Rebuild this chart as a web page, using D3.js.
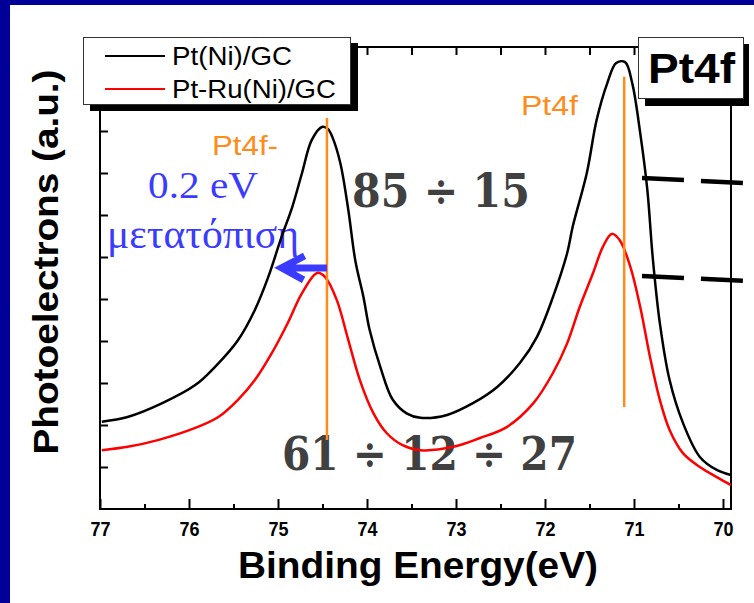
<!DOCTYPE html>
<html>
<head>
<meta charset="utf-8">
<script src="https://cdn.jsdelivr.net/npm/d3@7"></script>
<style>
	body { margin: 0; background: #000099; }
	svg { display: block; }
</style>
</head>
<body>
<div class="xps-plot"></div>
<script>
// Pt4f XPS spectra
const energyTicks = [77, 76, 75, 74, 73, 72, 71, 70];
const seriesNames = ['Pt(Ni)/GC', 'Pt-Ru(Ni)/GC'];
const seriesColors = ['#000000', '#ff0000'];

const ptNiEnergy = [76.98, 76.69, 76.30, 75.93, 75.71, 75.45, 75.26, 75.11, 74.96, 74.84, 74.73, 74.62, 74.50, 74.44, 74.39, 74.30, 74.21, 74.13, 74.04, 73.97, 73.85, 73.71, 73.55, 73.40, 73.10, 72.81, 72.54, 72.28, 72.09, 71.91, 71.75, 71.69, 71.53, 71.42, 71.30, 71.20, 71.10, 71.02, 70.93, 70.85, 70.79, 70.71, 70.60, 70.45, 70.26, 70.07, 69.91];
const ptNiCounts = [2.08, 2.19, 2.52, 2.95, 3.38, 4.02, 4.74, 5.52, 6.48, 7.19, 8.00, 8.79, 9.10, 9.05, 8.86, 8.24, 7.12, 5.90, 5.05, 4.26, 3.38, 2.60, 2.27, 2.17, 2.24, 2.52, 2.90, 3.48, 4.10, 5.05, 6.10, 6.71, 8.00, 9.26, 10.14, 10.62, 10.64, 10.14, 8.95, 7.60, 6.00, 4.43, 3.07, 2.05, 1.24, 0.93, 0.81];

const ptRuNiEnergy = [76.98, 76.69, 76.35, 75.93, 75.67, 75.45, 75.26, 75.07, 74.89, 74.73, 74.56, 74.47, 74.34, 74.22, 74.08, 73.93, 73.78, 73.60, 73.40, 73.03, 72.73, 72.43, 72.13, 71.91, 71.75, 71.61, 71.46, 71.35, 71.25, 71.16, 71.04, 70.93, 70.82, 70.71, 70.60, 70.45, 70.26, 70.07, 69.91];
const ptRuNiCounts = [1.40, 1.48, 1.64, 1.93, 2.19, 2.60, 3.07, 3.71, 4.43, 5.14, 5.62, 5.52, 4.98, 4.10, 3.07, 2.29, 1.81, 1.52, 1.40, 1.48, 1.69, 1.95, 2.52, 3.24, 3.95, 4.81, 5.62, 6.24, 6.55, 6.40, 5.76, 4.81, 3.62, 2.60, 1.88, 1.33, 1.00, 0.76, 0.57];

// annotation marks in data units
const peakLineEnergy = [74.45, 71.11];
const peakLineTop = [9.31, 10.29];
const peakLineBottom = [1.64, 2.43];
const dashLevels = [[7.88, 7.76], [5.55, 5.43]];
const dashEnergy = [70.91, 69.75];
const shiftArrow = [74.45, 74.96, 5.74];

const width = 754;
const height = 603;
const plotLeft = 100, plotRight = 731, plotTop = 47, plotBottom = 509;

const svg = d3.select('.xps-plot')
	.append('svg')
	.attr('width', width)
	.attr('height', height)
	.style('font-family', 'Arial, "Liberation Sans", sans-serif');

svg.append('rect')
	.attr('x', 10).attr('y', 5)
	.attr('width', width - 10).attr('height', height - 5)
	.attr('fill', '#ffffff');

const x = d3.scaleLinear().domain([77, 69.91]).range([plotLeft, plotRight]);
const y = d3.scaleLinear().domain([0, 11]).range([plotBottom, plotTop]);

// big grey ratio numbers and the blue note go under the curves
svg.append('text')
	.text('85 ÷ 15')
	.attr('x', 352).attr('y', 207)
	.attr('textLength', 178).attr('lengthAdjust', 'spacingAndGlyphs')
	.attr('font-family', '"DejaVu Serif", serif')
	.attr('font-weight', 'bold').attr('font-size', '46px')
	.attr('fill', '#404040');
svg.append('text')
	.text('61 ÷ 12 ÷ 27')
	.attr('x', 282).attr('y', 470)
	.attr('textLength', 295).attr('lengthAdjust', 'spacingAndGlyphs')
	.attr('font-family', '"DejaVu Serif", serif')
	.attr('font-weight', 'bold').attr('font-size', '46px')
	.attr('fill', '#404040');

svg.append('text')
	.text('0.2 eV')
	.attr('x', 148).attr('y', 198)
	.attr('textLength', 110).attr('lengthAdjust', 'spacingAndGlyphs')
	.attr('font-family', '"Liberation Serif", "Times New Roman", serif')
	.attr('font-size', '38px')
	.attr('fill', '#3b3bff');
svg.append('text')
	.text('μετατόπιση')
	.attr('x', 107).attr('y', 248)
	.attr('textLength', 192).attr('lengthAdjust', 'spacingAndGlyphs')
	.attr('font-family', '"Liberation Serif", "Times New Roman", serif')
	.attr('font-size', '42px')
	.attr('fill', '#3b3bff');

// frame
svg.append('rect')
	.attr('x', plotLeft).attr('y', plotTop)
	.attr('width', plotRight - plotLeft).attr('height', plotBottom - plotTop)
	.attr('fill', 'none')
	.attr('stroke', '#000').attr('stroke-width', 2);

const minorTicks = d3.range(76.5, 69.9, -1);

const xMajor = svg.append('g')
	.attr('transform', `translate(0,${plotBottom})`)
	.call(d3.axisBottom(x).tickValues(energyTicks).tickSizeInner(-10).tickSizeOuter(0).tickPadding(13).tickFormat(d3.format('d')));
const xMinor = svg.append('g')
	.attr('transform', `translate(0,${plotBottom})`)
	.call(d3.axisBottom(x).tickValues(minorTicks).tickSizeInner(-5).tickSizeOuter(0).tickFormat(''));
const xTop = svg.append('g')
	.attr('transform', `translate(0,${plotTop})`)
	.call(d3.axisTop(x).tickValues(d3.range(77, 69.9, -0.5)).tickSizeInner(-8).tickSizeOuter(0).tickFormat(''));
const yLeft = svg.append('g')
	.attr('transform', `translate(${plotLeft},0)`)
	.call(d3.axisLeft(y).tickValues(d3.range(1, 11)).tickSizeInner(-8).tickSizeOuter(0).tickFormat(''));

[xMajor, xMinor, xTop, yLeft].forEach(function(g) {
	g.select('.domain').remove();
	g.selectAll('line').attr('stroke', '#000').attr('stroke-width', 2);
});
xMajor.selectAll('text')
	.attr('font-family', 'Arial, "Liberation Sans", sans-serif')
	.attr('font-size', '20px')
	.attr('font-weight', 'bold')
	.attr('textLength', 20)
	.attr('lengthAdjust', 'spacingAndGlyphs')
	.attr('fill', '#000');

// axis titles
svg.append('text')
	.text('Binding Energy(eV)')
	.attr('x', 238).attr('y', 578)
	.attr('textLength', 360).attr('lengthAdjust', 'spacingAndGlyphs')
	.attr('font-size', '36px').attr('font-weight', 'bold');
svg.append('text')
	.text('Photoelectrons (a.u.)')
	.attr('transform', 'translate(58,262) rotate(-90)')
	.attr('text-anchor', 'middle')
	.attr('textLength', 385).attr('lengthAdjust', 'spacingAndGlyphs')
	.attr('font-size', '35px').attr('font-weight', 'bold');

// spectra
const line = d3.line()
	.x(function(d) { return x(d[0]); })
	.y(function(d) { return y(d[1]); })
	.curve(d3.curveCatmullRom.alpha(0.5));

const spectra = [d3.zip(ptNiEnergy, ptNiCounts), d3.zip(ptRuNiEnergy, ptRuNiCounts)];
svg.selectAll('.spectrum')
	.data(spectra)
	.enter()
	.append('path')
	.attr('class', 'spectrum')
	.attr('d', line)
	.attr('fill', 'none')
	.attr('stroke', function(d, i) { return seriesColors[i]; })
	.attr('stroke-width', 2.5);

// orange peak position lines
svg.selectAll('.peak-line')
	.data(peakLineEnergy)
	.enter()
	.append('line')
	.attr('x1', function(d) { return x(d); })
	.attr('x2', function(d) { return x(d); })
	.attr('y1', function(d, i) { return y(peakLineTop[i]); })
	.attr('y2', function(d, i) { return y(peakLineBottom[i]); })
	.attr('stroke', '#ff8c1a')
	.attr('stroke-width', 2.5);

svg.append('text')
	.text('Pt4f-')
	.attr('x', 212).attr('y', 155)
	.attr('textLength', 66).attr('lengthAdjust', 'spacingAndGlyphs')
	.attr('font-size', '27px').attr('fill', '#ff8c1a');
svg.append('text')
	.text('Pt4f')
	.attr('x', 521).attr('y', 115)
	.attr('textLength', 57).attr('lengthAdjust', 'spacingAndGlyphs')
	.attr('font-size', '27px').attr('fill', '#ff8c1a');

// blue shift arrow
const ax0 = x(shiftArrow[0]), ax1 = x(shiftArrow[1]), ay = y(shiftArrow[2]);
svg.append('path')
	.attr('d', `M${ax0},${ay}L${ax1},${ay}M${ax1 + 23},${ay - 12}L${ax1},${ay}L${ax1 + 22},${ay + 12}`)
	.attr('fill', 'none')
	.attr('stroke', '#3b3bff')
	.attr('stroke-width', 7)
	.attr('stroke-linejoin', 'miter');

// dashed level marks at right
svg.selectAll('.level')
	.data(dashLevels)
	.enter()
	.append('line')
	.attr('x1', x(dashEnergy[0]))
	.attr('x2', x(dashEnergy[1]))
	.attr('y1', function(d) { return y(d[0]); })
	.attr('y2', function(d) { return y(d[1]); })
	.attr('stroke', '#000')
	.attr('stroke-width', 4.5)
	.attr('stroke-dasharray', '42,17');

// legend
const legend = svg.append('g');
legend.append('rect')
	.attr('x', 90).attr('y', 43).attr('width', 268).attr('height', 68)
	.attr('fill', '#000');
legend.append('rect')
	.attr('x', 83.5).attr('y', 37.5).attr('width', 267).attr('height', 67)
	.attr('fill', '#fff').attr('stroke', '#333').attr('stroke-width', 1);
legend.selectAll('.key')
	.data(seriesNames)
	.enter()
	.append('line')
	.attr('x1', 105).attr('x2', 165)
	.attr('y1', function(d, i) { return 56 + i * 33; })
	.attr('y2', function(d, i) { return 56 + i * 33; })
	.attr('stroke', function(d, i) { return seriesColors[i]; })
	.attr('stroke-width', 2);
legend.selectAll('.name')
	.data(seriesNames)
	.enter()
	.append('text')
	.text(function(d) { return d; })
	.attr('x', 172)
	.attr('y', function(d, i) { return 65 + i * 33; })
	.attr('textLength', function(d, i) { return i == 0 ? 120 : 164; })
	.attr('lengthAdjust', 'spacingAndGlyphs')
	.attr('font-size', '25px');

// Pt4f tag at top right
svg.append('rect')
	.attr('x', 645).attr('y', 44).attr('width', 104).attr('height', 62)
	.attr('fill', '#000');
svg.append('rect')
	.attr('x', 638.5).attr('y', 37.5).attr('width', 105).attr('height', 61)
	.attr('fill', '#fff').attr('stroke', '#333').attr('stroke-width', 1);
svg.append('text')
	.text('Pt4f')
	.attr('x', 648).attr('y', 83)
	.attr('textLength', 87).attr('lengthAdjust', 'spacingAndGlyphs')
	.attr('font-size', '42px').attr('font-weight', 'bold');
</script>
</body>
</html>
